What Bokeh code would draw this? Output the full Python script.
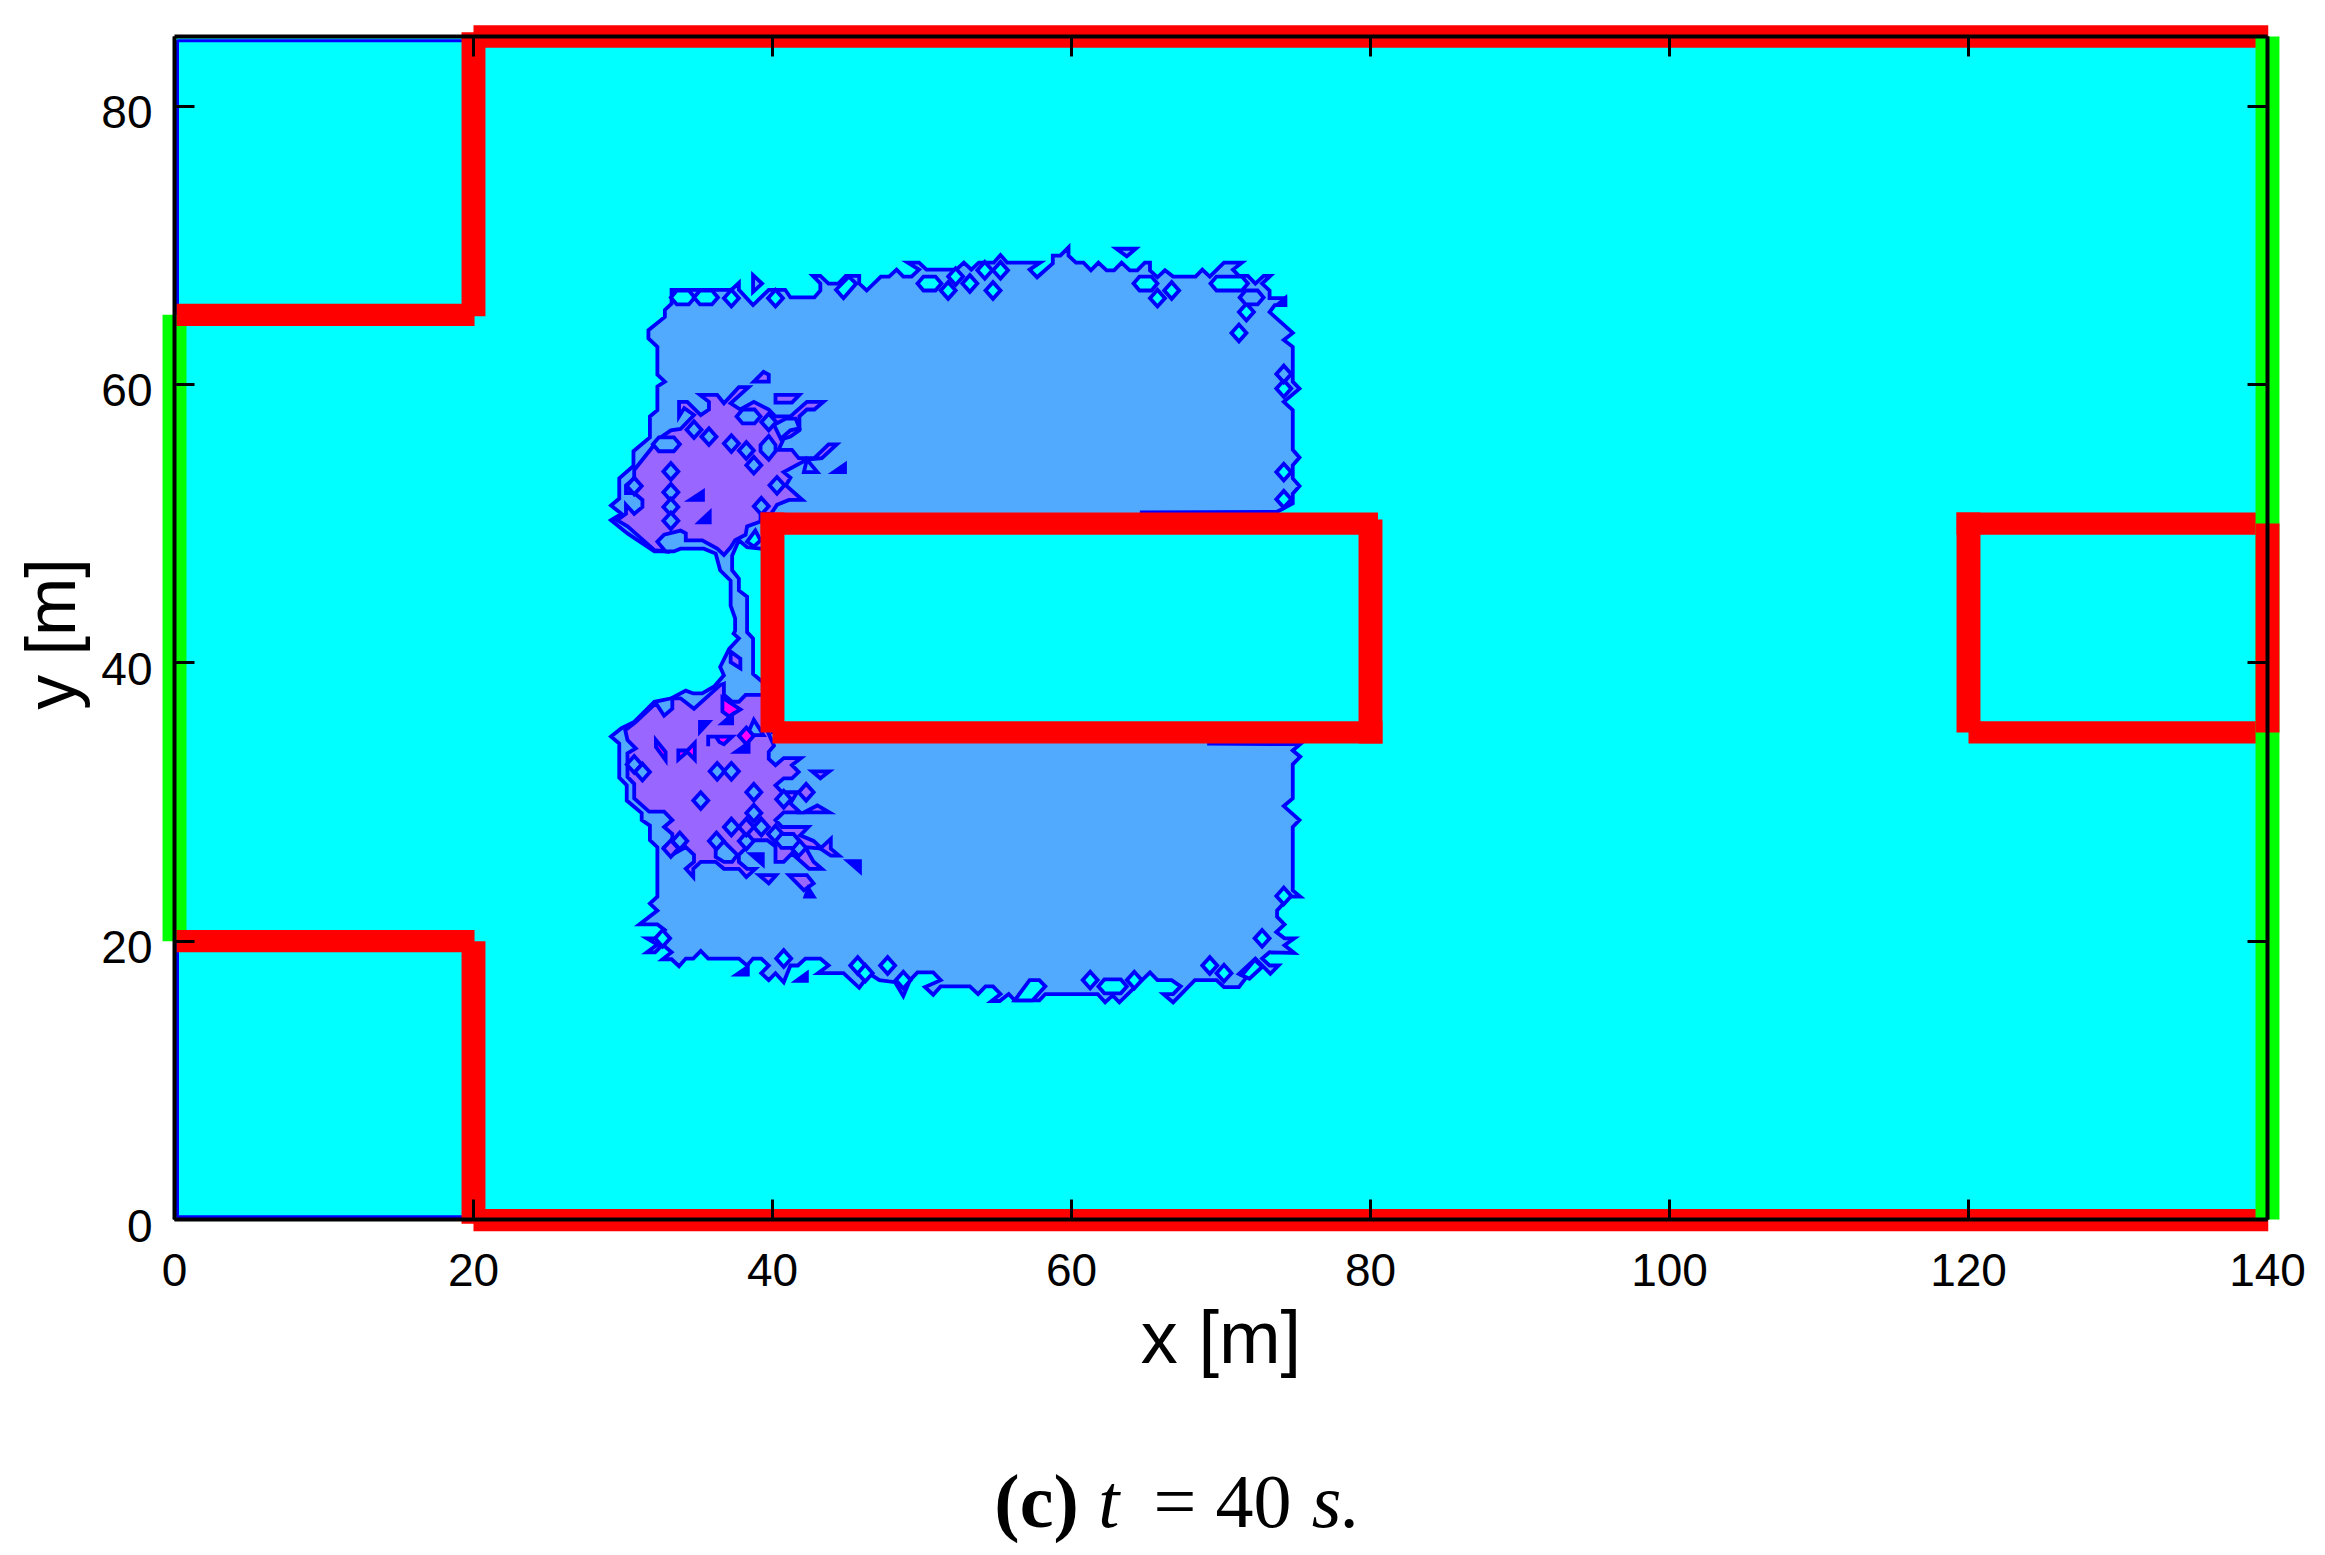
from bokeh.plotting import figure
from bokeh.core.properties import value
from bokeh.models import LinearAxis, Range1d, FixedTicker
from bokeh.embed import file_html
from bokeh.resources import INLINE

# ---------- tick labels ----------
x_ticks = [0, 20, 40, 60, 80, 100, 120, 140]
y_ticks = [0, 20, 40, 60, 80]

# ---------- contour of the light-blue level (m) ----------
light_outline = [
 (29.2,50.25),(29.9,50.7),(29.2,51.3),(29.75,51.8),(29.75,53.25),(30.7,54.15),(30.7,55.2),(31.8,56.2),(31.8,57.7),
 (32.3,58.15),(32.3,59.85),(32.8,60.2),(32.3,60.7),(32.3,62.7),(31.7,63.3),(31.7,63.9),(32.8,64.85),(32.8,65.35),
 (33.25,65.8),(33.25,66.8),(37.25,66.8),(37.75,67.3),(37.75,66.8),(38.7,65.7),(39.75,66.8),(40.85,66.8),(41.2,66.25),
 (42.8,66.25),(43.2,66.75),(43.2,67.25),(42.7,67.8),(43.2,67.8),(43.75,67.25),(44.4,67.25),(44.9,67.8),(45.8,67.8),
 (45.8,67.25),(46.3,66.75),(47.25,67.75),(47.8,67.75),(48.3,68.25),(48.75,67.75),(49.3,67.75),(49.8,68.25),(49.05,68.75),
 (49.8,68.75),(50.3,68.25),(52.3,68.25),(52.8,68.75),(53.3,68.25),(53.8,68.75),(54.8,68.75),(55.25,69.3),(55.7,68.75),
 (57.9,68.75),(57.2,68.25),(57.7,67.7),(58.75,68.7),(58.75,69.25),(59.25,69.25),(59.8,69.85),(59.8,69.25),(60.3,68.75),
 (60.8,68.75),(61.3,68.2),(61.8,68.75),(62.35,68.2),(62.85,68.2),(63.35,68.75),(63.9,68.2),(64.4,68.2),(64.9,68.75),
 (65.25,68.75),(65.25,68.2),(65.75,67.7),(66.25,68.2),(66.8,67.75),(68.3,67.75),(68.75,68.25),(69.25,67.75),(70.2,68.75),
 (71.4,68.75),(70.8,68.25),(71.2,67.8),(71.8,67.8),(72.3,67.25),(72.85,67.8),(73.3,67.8),(72.75,67.25),(73.25,66.75),
 (73.25,66.2),(74.3,66.2),(74.3,65.7),(73.6,65.7),(73.25,65.2),(74.8,63.7),(74.2,63.2),(74.8,62.7),(74.8,60.2),
 (75.25,59.7),(74.2,58.75),(74.8,58.15),(74.8,55.3),(75.25,54.75),(74.8,54.2),(74.8,53.25),(75.25,52.7),(74.8,52.15),
 (74.8,51.45),(73.75,50.85),(64.7,50.8),(64.7,50),(40,50),(40,48.2),(39.2,48.2),(38.3,48.3),(37.75,48.8),(37.3,47.7),
 (37.3,46.65),(37.75,46.05),(37.75,45.2),(38.3,44.75),(38.3,42.2),(38.7,41.75),(38.7,39.2),(39.2,38.75),(40,38),(40,35),
 (69.2,35),(69.2,34.2),(75.3,34.15),(74.8,33.7),(75.3,33.25),(74.8,32.7),(74.8,30.25),(74.2,29.7),(75.25,28.7),(74.8,28.2),
 (74.8,23.65),(75.3,23.2),(74.6,23.2),(73.75,22.2),(73.75,21.75),(74.25,21.2),(73.7,20.65),(74.25,20.2),(74.9,20.2),
 (74.25,19.7),(74.9,19.15),(73.25,19.2),(72.75,18.75),(73.25,18.25),(73.85,18.25),(73.3,17.65),(72.3,18.75),(71.2,17.65),
 (71.7,17.4),(71.2,16.7),(70.2,16.7),(69.7,17.2),(68.25,17.2),(66.8,15.6),(66.15,16.2),(66.8,16.2),(67.3,16.75),(66.7,17.2),
 (65.75,17.2),(65.25,17.75),(63.2,15.6),(62.75,16.1),(62.25,15.6),(61.75,16.2),(58.25,16.2),(57.85,15.75),(56.2,15.75),
 (55.8,16.2),(55.2,15.7),(54.65,15.7),(55.25,16.2),(54.75,16.75),(54.25,16.75),(53.75,16.2),(53.2,16.75),(51.25,16.75),
 (50.75,16.15),(50.2,16.7),(51.25,17.2),(50.75,17.75),(49.7,17.75),(49.2,17.2),(48.75,16.05),(48.2,17.05),(47.15,17.2),
 (46.5,17.65),(45.8,16.65),(44.75,17.7),(43.05,17.7),(43.75,18.25),(43.2,18.75),(42.2,18.75),(41.7,18.25),(41.2,18.25),
 (40.75,17.05),(40.2,17.7),(39.75,17.2),(39.25,17.7),(39.75,18.25),(39.25,18.75),(38.7,18.75),(38.3,18.25),(37.75,18.75),
 (35.7,18.75),(35.2,19.3),(34.7,18.75),(34.2,18.75),(33.75,18.2),(33.25,18.7),(32.65,18.7),(33.25,19.2),(32.65,19.75),
 (32.15,19.2),(31.6,19.2),(32.3,19.75),(31.6,20.2),(32.3,20.2),(32.8,20.8),(32.3,21.2),(31.1,21.2),(32.3,22.2),(31.8,22.7),
 (32.3,23.2),(32.3,26.75),(31.8,27.25),(31.8,28.3),(31.25,28.7),(31.25,29.2),(30.25,30.1),(30.25,31.2),(29.75,31.75),
 (29.75,34.2),(29.2,34.7),(29.9,35.3),(30.75,35.75),(32.1,37.2),(33.25,37.45),(34.2,38.0),(34.7,37.8),(35.3,37.8),(36.1,38.3),
 (36.75,39.1),(36.5,39.7),(37.1,41.0),(37.75,41.75),(37.4,42.1),(37.5,42.3),(37.5,43.2),(37.2,44.1),(37.2,45.9),(36.5,46.65),
 (36.2,47.85),(35.4,48.2),(33.85,48.2),(33.4,48.0),(32.1,48.0),(30.3,49.3),
]

# ---------- contours of the purple level (m) ----------
purple_upper = [
 (29.6,50.25),(30.2,50.7),(30.2,51.35),(30.75,50.7),(31.3,51.2),(31.3,51.7),(30.75,52.2),(30.2,52.2),(30.2,52.75),(30.75,53.25),
 (30.75,53.85),(31.75,55.2),(32.4,56.1),(33.2,56.7),(33.85,56.8),(34.75,57.8),(34.1,58.3),(33.75,57.7),(33.75,58.75),(34.3,58.75),
 (35.2,57.8),(35.75,58.2),(35.75,58.75),(35.15,59.25),(36.3,59.25),(36.75,58.65),(37.75,59.8),(38.4,59.8),(37.2,58.65),(37.85,58.2),
 (38.75,58.75),(39.75,58.2),(40.2,57.7),(41.2,57.7),(42.3,58.75),(43.4,58.75),(42.8,58.2),(42.3,58.2),(41.8,57.7),(41.8,56.7),
 (41.2,56.25),(40.75,56.1),(40.4,55.3),(41.3,55.3),(41.75,54.7),(42.8,54.7),(43.75,55.7),(44.3,55.7),(43.3,54.7),(42.3,54.6),
 (40.75,53.7),(41.2,53.3),(40.9,52.75),(42.0,51.7),(41.1,51.7),(40.3,51.35),(39.9,50.7),(39.2,50.7),(39.2,50.15),(38.3,49.8),
 (38.2,49.2),(37.5,48.8),(37.2,48.3),(36.75,47.75),(36.3,48.2),(35.3,48.8),(34.2,48.8),(34.2,49.3),(33.85,49.5),(32.75,49.2),
 (32.3,48.7),(32.85,48.0),(32.1,48.1),(30.3,49.8),
]
purple_lower = [
 (30.15,35.15),(30.85,35.75),(32.2,37.1),(32.75,36.2),(33.3,36.7),(33.3,37.45),(33.85,37.45),(34.75,36.7),(36.5,38.4),(36.75,38.5),
 (36.75,37.7),(37.3,37.2),(37.75,37.2),(38.2,37.7),(39.2,37.7),(39.7,37.7),(39.7,35),(40.1,34.05),(39.75,33.6),(39.75,33.1),
 (40.2,32.65),(40.75,33.15),(41.9,33.15),(41.3,32.65),(41.75,32.15),(41.3,31.7),(40.75,31.7),(40.2,31.2),(40.65,30.7),(41.65,30.7),
 (41.2,29.9),(41.85,29.25),(40.75,29.25),(40.2,28.7),(40.65,28.2),(42.4,28.2),(41.85,27.6),(42.75,27.2),(43.3,26.65),(42.2,26.75),
 (42.75,25.7),(43.3,25.2),(42.45,25.2),(41.3,26.3),(40.75,25.7),(40.2,25.7),(40.2,26.8),(39.65,27.25),(38.75,27.25),(37.75,26.2),
 (37.75,25.7),(38.3,25.2),(38.85,25.2),(38.25,24.6),(37.75,25.2),(36.75,25.2),(36.2,25.7),(35.2,25.7),(34.7,25.2),(34.7,24.6),
 (34.2,25.2),(34.75,25.7),(34.75,26.2),(34.2,26.75),(33.2,26.15),(32.75,26.75),(33.3,27.25),(33.3,27.7),(32.75,28.2),(33.3,28.7),
 (32.75,29.3),(31.75,29.3),(30.75,30.25),(30.75,31.3),(30.3,31.8),(30.3,33.5),(30.85,33.85),(30.3,34.45),
]

# ---------- islands (m) ----------
cyan_polys = [
 [(44.25,66.8),(45.1,67.75),(45.6,67.25),(44.75,66.2)],
 [(56.2,15.75),(57.2,17.2),(57.85,17.2),(58.25,16.75),(57.4,15.75)],
 [(71.4,17.55),(72.25,18.65),(72.75,18.15),(71.9,17.3)],
 [(38.3,48.7),(38.85,49.5),(39.2,48.8),(38.75,48.35)],
]
light_polys = [
 [(39.2,55.65),(39.75,56.3),(40.2,55.65),(40.2,55.2),(39.75,54.6),(39.2,55.2)],
 [(40.1,57.1),(40.9,57.55),(41.55,57.55),(41.8,56.85),(41.2,56.7),(40.55,56.1)],
 [(36.2,26.65),(36.2,26.05),(36.75,25.7),(37.3,25.7),(37.65,26.2),(36.75,27.15)],
 [(38.3,34.8),(38.75,35.9),(39.4,34.8)],
 [(38.7,67.85),(39.3,67.25),(38.7,66.65)],
 [(63.0,69.75),(64.3,69.75),(63.7,69.2)],
 [(42.1,53.7),(43.0,53.7),(42.3,54.6)],
]
purple_polys = [
 [(39.4,60.9),(38.75,60.2),(39.75,60.2),(39.75,60.7)],
 [(40.2,59.25),(41.8,59.25),(41.3,58.7),(40.2,58.7)],
 [(42.65,32.2),(43.8,32.2),(43.2,31.7)],
 [(42.1,29.25),(43.0,29.75),(43.8,29.25)],
 [(39.1,24.75),(40.25,24.75),(39.75,24.15)],
 [(41.1,24.75),(42.3,24.75),(42.75,24.15),(42.1,23.65)],
 [(37.2,40.8),(37.85,40.3),(37.85,39.6),(37.2,40.05)],
 [(43.2,26.65),(43.9,27.35),(43.9,26.65),(44.45,26.15),(43.9,26.15)],
]
dark_polys = [
 [(37.6,17.6),(38.35,18.15),(38.35,17.6)],
 [(41.6,17.15),(42.3,17.7),(42.3,17.15)],
 [(44.1,53.7),(44.85,54.25),(44.85,53.7)],
 [(34.5,51.7),(35.35,52.3),(35.35,51.7)],
 [(35.1,50.1),(35.8,50.8),(35.8,50.1)],
 [(38.55,26.25),(39.35,26.25),(39.35,25.5)],
 [(42.2,23.2),(42.75,23.2),(42.4,23.8)],
 [(45.05,25.75),(45.85,25.75),(45.85,25.0)],
 [(35.15,35.75),(35.75,35.75),(35.15,35.05)],
 [(36.65,35.65),(37.3,35.65),(37.3,36.25)],
 [(37.55,33.6),(38.4,33.6),(38.4,34.25)],
 [(74.3,66.2),(74.3,65.7),(73.75,65.7)],
]
magenta_polys = [
 [(35.7,34.7),(36.2,34.7),(36.45,34.3),(36.75,34.15),(37.3,34.7),(35.7,34.7),(35.7,34.0)],
 [(32.2,34.45),(32.85,33.6),(32.85,33.0),(32.2,33.95)],
 [(33.7,33.7),(34.3,33.7),(34.8,34.25),(34.8,33.05),(34.3,33.6),(33.7,33.05)],
 [(36.65,37.5),(36.65,36.5),(37.1,36.15),(37.85,36.65)],
]

# ---------- small closed contours around single grid nodes (m) ----------
cyan_diamond_x = [37.25,40.2,52.25,51.75,53.2,54.2,55.25,54.75,66.7,65.75,71.7,71.2,74.2,74.2,74.2,
                  32.65,40.75,45.7,46.2,47.7,48.75,61.25,64.2,69.25,70.2,72.75,74.2]
cyan_diamond_y = [66.2,66.2,67.75,66.75,67.25,68.2,68.2,66.75,66.75,66.2,65.2,63.7,59.7,53.7,51.75,
                  20.2,18.75,18.25,17.7,18.25,17.2,17.2,17.2,18.25,17.7,20.2,23.25]
cyan_hex_x = [34.0,35.55,50.5,64.95,70.55,62.75]
cyan_hex_y = [66.25,66.25,67.25,67.25,67.25,16.75]
cyan_hex_w = [0.8,0.8,0.8,0.8,1.25,0.95]

light_diamond_x = [74.2,34.75,35.75,37.25,38.25,38.75,33.2,33.2,33.2,33.2,39.25,40.3,30.75,39.75,
                   30.75,31.3,36.3,37.25,38.75,40.75,35.2,38.75,37.25,39.25,40.2,36.25,38.25,41.75,33.8]
light_diamond_y = [60.75,56.75,56.25,55.75,55.25,54.2,53.75,52.25,51.2,50.2,51.25,52.75,52.7,57.3,
                   32.7,32.15,32.2,32.2,30.7,30.2,30.1,29.2,28.2,28.2,27.7,27.2,27.2,26.7,27.2]
light_hex_x = [72.05,32.9,38.4,41.0]
light_hex_y = [66.25,55.7,57.7,27.2]
light_hex_w = [0.8,0.9,0.8,0.8]

purple_diamond_x = [42.25,38.25,33.2]
purple_diamond_y = [30.7,28.2,26.65]
magenta_diamond_x = [38.25]
magenta_diamond_y = [34.75]

# ---------- boundaries: (left, right, bottom, top) in m ----------
domain_box = (0, 140, 0, 85)
inlet_box = (-0.8, 0.8, 20, 65)
wall_boxes = [
 (0.13, 20.07, 64.2, 65.8), (19.2, 20.8, 64.9, 85.3), (20, 140.05, 84.2, 85.8),
 (0.13, 20.07, 19.2, 20.8), (19.2, 20.8, -0.3, 20), (20, 140.05, -0.85, 0.75),
 (39.2, 80.5, 49.2, 50.8), (39.2, 40.8, 35, 50.8), (40, 80.8, 34.2, 35.8), (79.2, 80.8, 34.2, 50.3),
 (119.2, 140, 49.2, 50.8), (119.2, 120.8, 35, 50.8), (120, 140, 34.2, 35.8),
]
outlet_box = (139.2, 140.8, 0, 85)
end_wall_box = (139.2, 140.8, 35, 50)
domain_edge = [(20,84.7),(0.2,84.7),(0.2,0.2),(20,0.2)]

# ---------- caption pieces ----------
caption_text = ["(c)", "t", "= 40", "s."]
caption_x = [57.66, 62.5, 70.1, 77.7]
caption_style = ["bold", "italic", "normal", "italic"]
caption_y = -20.2

CYAN, LIGHT, PURPLE, MAGENTA, BLUE = "#00ffff", "#52aaff", "#9966ff", "#ff00ff", "#0000ff"
RED, GREEN = "#ff0000", "#00ff00"
LW = 3.8


def xs(poly):
    return [a for a, _ in poly]


def ys(poly):
    return [b for _, b in poly]


def diamonds(cx, cy, w=0.5, h=0.6):
    return [[(a - w, b), (a, b + h), (a + w, b), (a, b - h)] for a, b in zip(cx, cy)]


def hexes(cx, cy, cw, h=0.5):
    return [[(a - c, b), (a - c + 0.4, b + h), (a + c - 0.4, b + h), (a + c, b), (a + c - 0.4, b - h), (a - c + 0.4, b - h)]
            for a, b, c in zip(cx, cy, cw)]


# The frame fills the canvas so that walls and caption may pass beyond the axes, which are fixed at the domain edges.
W, H = 2320, 1550
LEFT, TOP, FW, FH = 174, 36, 2093, 1183
SX, SY = FW / 140, FH / 85
x_range = Range1d(-LEFT / SX, (W - LEFT) / SX)
y_range = Range1d(-(H - TOP - FH) / SY, (TOP + FH) / SY)
p = figure(width=W, height=H, frame_width=W, frame_height=H, output_backend="svg", toolbar_location=None,
           x_range=x_range, y_range=y_range, x_axis_location=None, y_axis_location=None,
           min_border=0, background_fill_color="white", border_fill_color="white", outline_line_color=None)
p.grid.visible = False


def patches(polys, fill):
    p.patches([xs(q) for q in polys], [ys(q) for q in polys], fill_color=fill, line_color=BLUE, line_width=LW,
              line_join="miter")


def boxes(extents, color):
    p.quad(left=[e[0] for e in extents], right=[e[1] for e in extents], bottom=[e[2] for e in extents],
           top=[e[3] for e in extents], fill_color=color, line_color=None)


boxes([domain_box], CYAN)
p.line(xs(domain_edge), ys(domain_edge), line_color=BLUE, line_width=3)
patches([light_outline], LIGHT)
patches(cyan_polys + diamonds(cyan_diamond_x, cyan_diamond_y) + hexes(cyan_hex_x, cyan_hex_y, cyan_hex_w), CYAN)
patches([purple_upper, purple_lower], PURPLE)
patches(light_polys + diamonds(light_diamond_x, light_diamond_y) + hexes(light_hex_x, light_hex_y, light_hex_w), LIGHT)
patches(purple_polys + diamonds(purple_diamond_x, purple_diamond_y), PURPLE)
patches(magenta_polys + diamonds(magenta_diamond_x, magenta_diamond_y), MAGENTA)
patches(dark_polys, BLUE)

boxes([inlet_box], GREEN)
boxes(wall_boxes, RED)
boxes([outlet_box], GREEN)
boxes([end_wall_box], RED)

# axes --------------------------------------------------------------------
TICK_FONT = "46px"
FONT = "Liberation Sans"


def frame_axis(side, ticks, location, bounds):
    ax = LinearAxis(ticker=FixedTicker(ticks=ticks), fixed_location=location, bounds=bounds,
                    axis_line_color="black", axis_line_width=4, major_tick_line_color="black", major_tick_line_width=3,
                    major_tick_in=20, major_tick_out=0, minor_tick_line_color=None)
    if side != "below":
        ax.major_label_text_color = None
        ax.major_label_standoff = 0
    p.add_layout(ax, side)
    return ax


bottom = frame_axis("below", x_ticks, 0, (0, 140))
bottom.major_label_text_font = FONT
bottom.major_label_text_font_size = TICK_FONT
bottom.major_label_text_color = "black"
bottom.major_label_standoff = 34
bottom.axis_label = "x [m]"
bottom.axis_label_text_font = FONT
bottom.axis_label_text_font_style = "normal"
bottom.axis_label_text_color = "black"
bottom.axis_label_text_font_size = "74px"
bottom.axis_label_standoff = 7

frame_axis("left", y_ticks, 0, (0, 85))
frame_axis("above", x_ticks, 85, (0, 140))
frame_axis("right", y_ticks, 140, (0, 85))

# The printed y labels sit a few pixels below their ticks: a label axis on a range shifted by that amount.
SHIFT = 6 / SY
p.extra_y_ranges["labels"] = Range1d(y_range.start + SHIFT, y_range.end + SHIFT)
left_labels = LinearAxis(y_range_name="labels", ticker=FixedTicker(ticks=y_ticks), fixed_location=0, bounds=(0, 85),
                         axis_line_color=None, major_tick_line_color=None, minor_tick_line_color=None,
                         major_tick_in=0, major_tick_out=0,
                         major_label_text_font=FONT, major_label_text_font_size=TICK_FONT,
                         major_label_standoff=22, major_label_text_color="black",
                         axis_label="y [m]", axis_label_text_font=FONT, axis_label_text_font_style="normal",
                         axis_label_text_color="black", axis_label_text_font_size="70px", axis_label_standoff=8)
p.add_layout(left_labels, "left")

# caption -----------------------------------------------------------------
for text, cx, style in zip(caption_text, caption_x, caption_style):
    p.text([cx], [caption_y], text=[text], text_font=value("Liberation Serif"), text_font_size=value("76px"),
           text_font_style=style, text_align="center", text_baseline="alphabetic", text_color="black")

open("out.html", "w").write(file_html(p, INLINE))
